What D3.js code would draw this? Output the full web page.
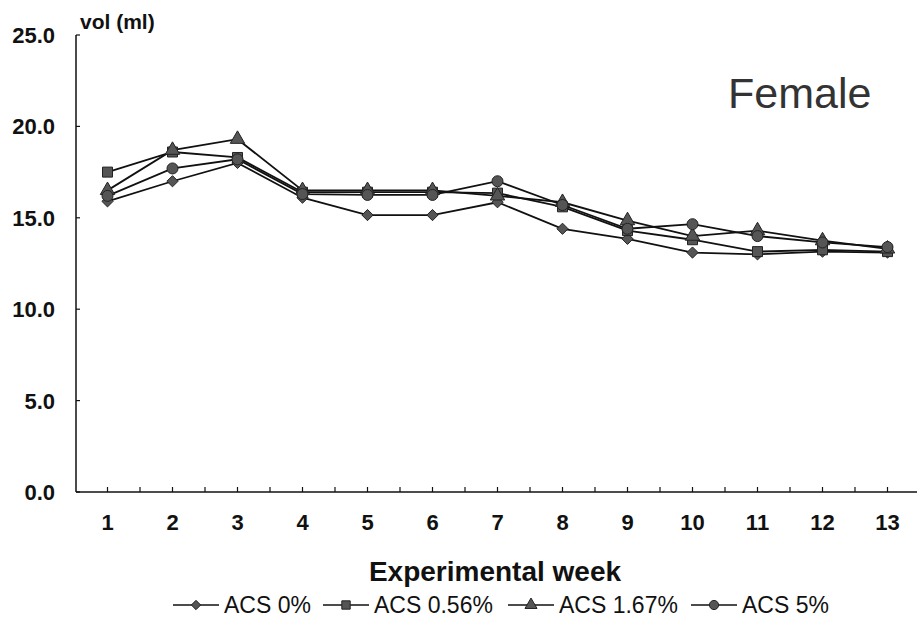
<!DOCTYPE html>
<meta charset="utf-8">
<script src="https://d3js.org/d3.v7.min.js"></script>
<style>
  body { margin: 0; background: #fff; }
  text { font-family: "Liberation Sans", Arial, sans-serif; fill: #111; }
</style>
<div id="chart"></div>
<script>
  // Chart data
  const weeks = ["1", "2", "3", "4", "5", "6", "7", "8", "9", "10", "11", "12", "13"];
  const acs0   = [15.9, 17.0, 18.0, 16.1, 15.15, 15.15, 15.85, 14.4, 13.85, 13.1, 13.0, 13.15, 13.1];
  const acs056 = [17.5, 18.6, 18.3, 16.4, 16.4, 16.4, 16.35, 15.6, 14.3, 13.8, 13.15, 13.25, 13.15];
  const acs167 = [16.5, 18.7, 19.3, 16.5, 16.5, 16.5, 16.2, 15.85, 14.85, 14.0, 14.3, 13.75, 13.3];
  const acs5   = [16.2, 17.7, 18.2, 16.3, 16.25, 16.25, 17.0, 15.7, 14.4, 14.65, 14.0, 13.65, 13.4];
  const seriesNames = ["ACS 0%", "ACS 0.56%", "ACS 1.67%", "ACS 5%"];
  const yTicks = [0, 5, 10, 15, 20, 25];

  const width = 917, height = 634;
  const axisLeft = 76, axisRight = 917, plotTop = 35, plotBottom = 492;

  const svg = d3.select("#chart").append("svg")
    .attr("width", width)
    .attr("height", height);

  const x = d3.scaleBand().domain(weeks).range([75, 920]);
  const y = d3.scaleLinear().domain([0, 25]).range([plotBottom, plotTop]);
  const cx = w => x(w) + x.bandwidth() / 2;

  const series = [
    { name: seriesNames[0], values: acs0,   symbol: d3.symbolDiamond2, size: 80 },
    { name: seriesNames[1], values: acs056, symbol: d3.symbolSquare,   size: 100 },
    { name: seriesNames[2], values: acs167, symbol: d3.symbolTriangle, size: 90 },
    { name: seriesNames[3], values: acs5,   symbol: d3.symbolCircle,   size: 95 }
  ];

  // y axis
  svg.append("line")
    .attr("x1", axisLeft).attr("x2", axisLeft)
    .attr("y1", y(25)).attr("y2", y(0))
    .attr("stroke", "#111").attr("stroke-width", 1.5);
  svg.selectAll(".ytick").data(yTicks).enter().append("line")
    .attr("x1", axisLeft).attr("x2", axisLeft + 4)
    .attr("y1", d => y(d)).attr("y2", d => y(d))
    .attr("stroke", "#111").attr("stroke-width", 1.2);
  svg.selectAll(".ylab").data(yTicks).enter().append("text")
    .attr("x", 55).attr("y", d => y(d) + 8)
    .attr("text-anchor", "end")
    .attr("font-size", 22).attr("font-weight", "bold")
    .text(d => d.toFixed(1));

  // x axis
  svg.append("line")
    .attr("x1", axisLeft).attr("x2", axisRight)
    .attr("y1", plotBottom).attr("y2", plotBottom)
    .attr("stroke", "#111").attr("stroke-width", 1.5);
  const xTickPos = [];
  weeks.forEach(w => {
    xTickPos.push(cx(w));
    xTickPos.push(x(w) + x.bandwidth());
  });
  svg.selectAll(".xtick").data(xTickPos).enter().append("line")
    .attr("x1", d => d).attr("x2", d => d)
    .attr("y1", plotBottom).attr("y2", plotBottom - 5)
    .attr("stroke", "#111").attr("stroke-width", 1.2);
  svg.selectAll(".xlab").data(weeks).enter().append("text")
    .attr("x", d => cx(d))
    .attr("y", 530)
    .attr("text-anchor", "middle")
    .attr("font-size", 22).attr("font-weight", "bold")
    .text(d => d);

  // titles
  svg.append("text")
    .attr("x", 80).attr("y", 29)
    .attr("font-size", 21).attr("font-weight", "bold")
    .text("vol (ml)");
  svg.append("text")
    .attr("x", 495).attr("y", 581)
    .attr("text-anchor", "middle")
    .attr("font-size", 28).attr("font-weight", "bold")
    .text("Experimental week");
  svg.append("text")
    .attr("x", 728).attr("y", 108)
    .attr("font-size", 43)
    .style("fill", "#333")
    .text("Female");

  // lines and markers
  const line = d3.line()
    .x((d, i) => cx(weeks[i]))
    .y(d => y(d));

  series.forEach(s => {
    svg.append("path")
      .attr("d", line(s.values))
      .attr("fill", "none")
      .attr("stroke", "#111")
      .attr("stroke-width", 1.8);
  });
  series.forEach(s => {
    svg.selectAll(null).data(s.values).enter().append("path")
      .attr("d", d3.symbol().type(s.symbol).size(s.size))
      .attr("transform", (d, i) => `translate(${cx(weeks[i])},${y(d)})`)
      .attr("fill", "#555")
      .attr("stroke", "#222")
      .attr("stroke-width", 1);
  });

  // legend
  const legendX = [173, 323, 508, 691];
  const legend = svg.append("g");
  series.forEach((s, i) => {
    const g = legend.append("g").attr("transform", `translate(${legendX[i]},605)`);
    g.append("line")
      .attr("x1", 0).attr("x2", 46)
      .attr("y1", 0).attr("y2", 0)
      .attr("stroke", "#111").attr("stroke-width", 1.5);
    g.append("path")
      .attr("d", d3.symbol().type(s.symbol).size(s.size * 0.7))
      .attr("transform", "translate(23,0)")
      .attr("fill", "#555").attr("stroke", "#222");
    g.append("text")
      .attr("x", 51).attr("y", 8)
      .attr("font-size", 23)
      .text(s.name);
  });
</script>
